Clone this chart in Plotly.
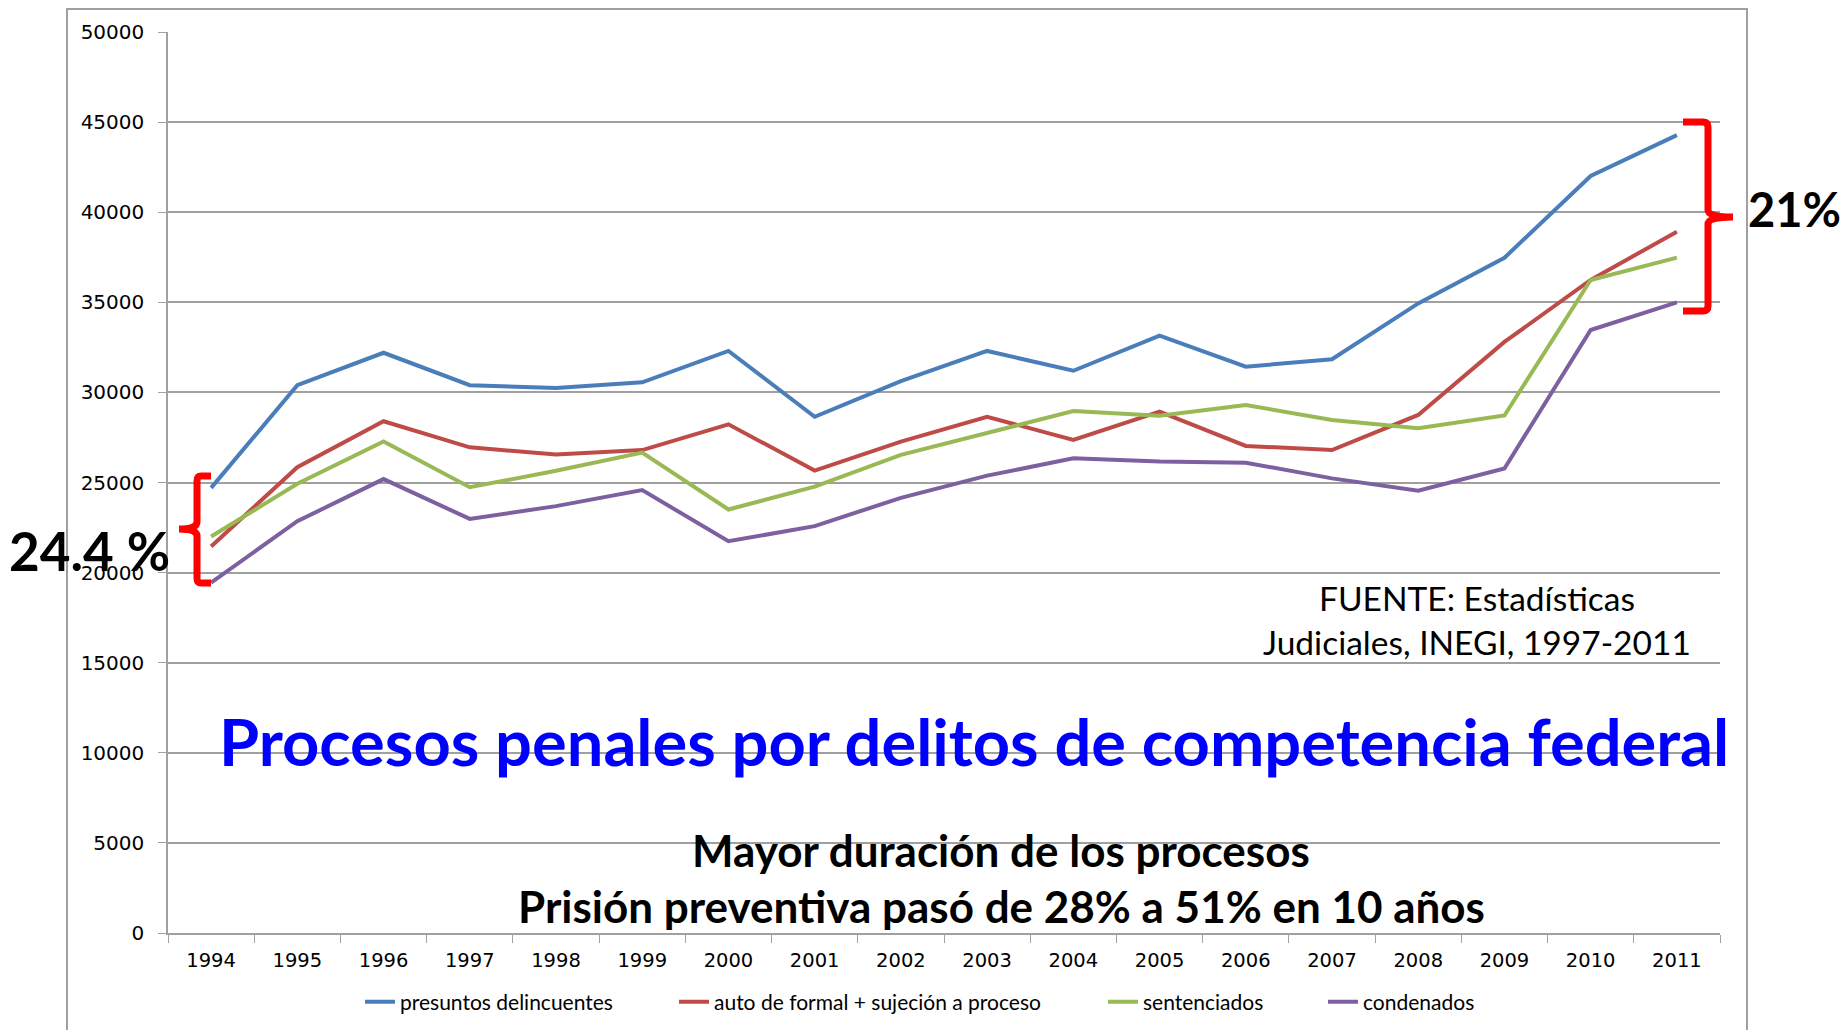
import plotly.graph_objects as go

years = ["1994", "1995", "1996", "1997", "1998", "1999", "2000", "2001", "2002",
         "2003", "2004", "2005", "2006", "2007", "2008", "2009", "2010", "2011"]

presuntos = [24700, 30400, 32200, 30400, 30250, 30560, 32300, 28650, 30630,
             32300, 31200, 33150, 31430, 31840, 34940, 37470, 42010, 44280]
auto_formal = [21450, 25850, 28400, 26950, 26560, 26800, 28230, 25660, 27270,
               28650, 27360, 28930, 27030, 26800, 28750, 32800, 36240, 38920]
sentenciados = [22000, 24930, 27280, 24740, 25650, 26660, 23500, 24770, 26530,
                27770, 28970, 28710, 29300, 28470, 28010, 28720, 36240, 37480]
condenados = [19450, 22850, 25190, 22980, 23690, 24580, 21740, 22580, 24150,
              25380, 26340, 26160, 26100, 25230, 24550, 25780, 33460, 35000]

series_names = ["presuntos delincuentes", "auto de formal + sujeción a proceso",
                "sentenciados", "condenados"]
series_values = [presuntos, auto_formal, sentenciados, condenados]
series_colors = ["#4A7EBB", "#BE4B48", "#98B954", "#7D60A0"]

W, H = 1845, 1030
L, R, T, B = 168, 1720, 32, 933


def px(x):
    return (x - L) / (R - L)


def py(y):
    return (B - y) / (B - T)


fig = go.Figure()
legend_ids = ["legend", "legend2", "legend3", "legend4"]
for name, vals, col, lg in zip(series_names, series_values, series_colors, legend_ids):
    fig.add_trace(go.Scatter(x=years, y=vals, name=name, mode="lines",
                             line=dict(color=col, width=4), legend=lg))

legend_text_start = [400, 714, 1143, 1363]
leg_common = dict(orientation="h", xref="container", yref="container",
                  yanchor="middle", xanchor="left", bgcolor="rgba(0,0,0,0)",
                  font=dict(family="Lato", size=21, color="black"),
                  itemwidth=30, borderwidth=0)
layout_legends = {}
for lg, ts in zip(legend_ids, legend_text_start):
    layout_legends[lg] = dict(x=(ts - 40) / W, y=1 - 1002 / H, **leg_common)

grid_col = "#A0A0A0"
fig.update_layout(
    width=W, height=H,
    margin=dict(l=L, r=W - R, t=T, b=H - B, autoexpand=False),
    plot_bgcolor="white", paper_bgcolor="white",
    showlegend=True,
    xaxis=dict(type="category", range=[-0.5, 17.5], showgrid=False, automargin=False,
               showline=True, linecolor=grid_col, linewidth=1.5,
               ticks="outside", tickson="boundaries", ticklen=8, tickcolor=grid_col,
               ticklabelstandoff=9,
               tickfont=dict(family="DejaVu Sans", size=19.5, color="black"),
               zeroline=False),
    yaxis=dict(range=[0, 50000], dtick=5000, showgrid=True, gridcolor=grid_col,
               gridwidth=1.5, showline=True, linecolor=grid_col, linewidth=1.5,
               automargin=False,
               ticks="outside", ticklen=8, tickcolor=grid_col, zeroline=False,
               tickformat="d", ticklabelstandoff=10,
               tickfont=dict(family="DejaVu Sans", size=20, color="black")),
    **layout_legends,
)

# outer chart-area border
fig.add_shape(type="rect", xref="paper", yref="paper",
              x0=px(67), x1=px(1747), y0=py(1045), y1=py(9),
              line=dict(color=grid_col, width=2), layer="below")


def path(points_cmds):
    out = []
    for cmd in points_cmds:
        c = cmd[0]
        coords = cmd[1:]
        pts = []
        for i in range(0, len(coords), 2):
            pts.append(f"{px(coords[i]):.5f},{py(coords[i + 1]):.5f}")
        out.append(c + " ".join(pts))
    return " ".join(out)


left_brace = path([
    ("M", 211, 476), ("L", 201, 476), ("Q", 197, 476, 197, 481), ("L", 197, 522),
    ("Q", 197, 529, 179, 529), ("Q", 197, 529, 197, 536), ("L", 197, 578),
    ("Q", 197, 583, 201, 583), ("L", 211, 583),
])
right_brace = path([
    ("M", 1683, 122), ("L", 1703, 122), ("Q", 1708, 122, 1708, 127), ("L", 1708, 210),
    ("Q", 1708, 217, 1733, 217), ("Q", 1708, 217, 1708, 224), ("L", 1708, 306),
    ("Q", 1708, 311, 1703, 311), ("L", 1683, 311),
])
for p in (left_brace, right_brace):
    fig.add_shape(type="path", xref="paper", yref="paper", path=p,
                  line=dict(color="#FF0000", width=7))


def ann(text, x, y, size, bold=False, color="black", family="Lato", xanchor="center"):
    fig.add_annotation(text=f"<b>{text}</b>" if bold else text,
                       xref="paper", yref="paper", x=px(x), y=py(y),
                       xanchor=xanchor, yanchor="middle", showarrow=False,
                       font=dict(family=family, size=size, color=color))


ann("24.4 %", 89, 550, 53, bold=True)
ann("21%", 1794, 209, 47, bold=True)
ann("Procesos penales por delitos de competencia federal", 974, 741, 65, bold=True,
    color="#0000FF")
ann("Mayor duración de los procesos", 1001, 850, 44, bold=True)
ann("Prisión preventiva pasó de 28% a 51% en 10 años", 1001, 906, 44, bold=True)
ann("FUENTE: Estadísticas", 1477, 598, 33.5)
ann("Judiciales, INEGI, 1997-2011", 1477, 642, 33.5)

fig.write_html("out.html", config={"displayModeBar": False},
               post_script="document.body.style.margin='0';")
